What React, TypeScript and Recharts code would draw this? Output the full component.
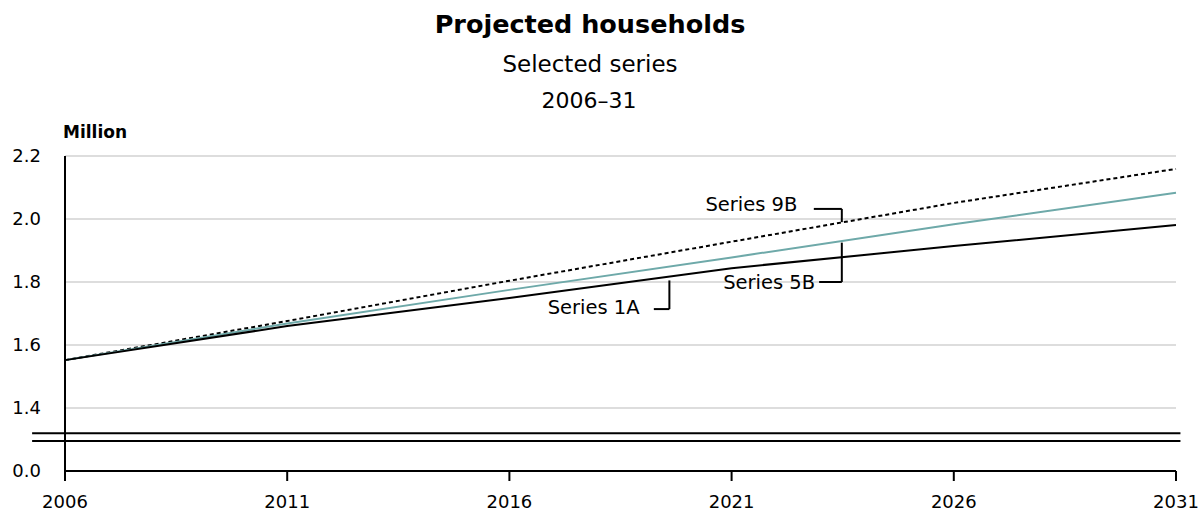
import React from "react";
import {
  LineChart,
  Line,
  XAxis,
  YAxis,
  CartesianGrid,
  ReferenceLine,
  ReferenceDot,
  Customized,
} from "recharts";

// ---- data ----
const years = [2006, 2011, 2016, 2021, 2026, 2031];
const series1A = [1.552, 1.66, 1.749, 1.844, 1.914, 1.981];
const series5B = [1.552, 1.668, 1.775, 1.878, 1.983, 2.083];
const series9B = [1.552, 1.676, 1.804, 1.928, 2.051, 2.159];

// broken axis: the "0.0" label sits at position 1.2
const yTicks = [1.2, 1.4, 1.6, 1.8, 2.0, 2.2];
const yTickLabels = ["0.0", "1.4", "1.6", "1.8", "2.0", "2.2"];
const xTickLabels = ["2006", "2011", "2016", "2021", "2026", "2031"];

// annotation anchors (data coordinates)
const labelNames = ["Series 9B", "Series 5B", "Series 1A"];
const labelX = [2022.48, 2022.88, 2018.93];
const labelY = [2.046, 1.8, 1.719];
const leaderStartX = [2022.85, 2022.97, 2019.25];
const leaderCornerX = [2023.48, 2023.48, 2019.6];
const leaderY = [2.032, 1.8, 1.714];
const leaderEndY = [1.99, 1.925, 1.805];

const breakYs = [1.32, 1.295];

const data = years.map((year, i) => ({
  year,
  s1A: series1A[i],
  s5B: series5B[i],
  s9B: series9B[i],
}));

const FONT = "'DejaVu Sans', Verdana, sans-serif";

const Titles = () => (
  <g fontFamily={FONT} fill="#000">
    <text x={590} y={33} textAnchor="middle" fontSize={25.5} fontWeight="bold">
      Projected households
    </text>
    <text x={590} y={72} textAnchor="middle" fontSize={23}>
      Selected series
    </text>
    <text x={589} y={108} textAnchor="middle" fontSize={22}>
      2006–31
    </text>
    <text x={63} y={138} fontSize={17} fontWeight="bold">
      Million
    </text>
  </g>
);

const makeLabel = (text: string) => (props: any) => {
  const vb = props.viewBox || {};
  const cx = vb.cx !== undefined ? vb.cx : vb.x + (vb.width || 0) / 2;
  const cy = vb.cy !== undefined ? vb.cy : vb.y + (vb.height || 0) / 2;
  return (
    <text
      x={cx}
      y={cy}
      textAnchor="end"
      dominantBaseline="central"
      fontFamily={FONT}
      fontSize={19.5}
      fill="#000"
    >
      {text}
    </text>
  );
};

export default function App() {
  return (
    <div style={{ position: "absolute", left: 0, top: 0, background: "#fff" }}>
      <LineChart
        width={1204}
        height={513}
        data={data}
        margin={{ top: 156, right: 28, bottom: 0, left: 0 }}
      >
        <CartesianGrid vertical={false} stroke="#d2d2d2" strokeWidth={1.5} />
        <XAxis
          dataKey="year"
          type="number"
          domain={[2006, 2031]}
          ticks={years}
          tickFormatter={(v: number) => xTickLabels[years.indexOf(v)] ?? String(v)}
          height={42}
          tickSize={10}
          tickMargin={14}
          axisLine={{ stroke: "#000", strokeWidth: 2 }}
          tickLine={{ stroke: "#000", strokeWidth: 2 }}
          tick={{ fill: "#000", fontSize: 18, fontFamily: FONT }}
          interval={0}
        />
        <YAxis
          type="number"
          domain={[1.2, 2.2]}
          ticks={yTicks}
          tickFormatter={(v: number) => {
            const i = yTicks.findIndex((t) => Math.abs(t - v) < 1e-9);
            return i >= 0 ? yTickLabels[i] : v.toFixed(1);
          }}
          width={65}
          tickSize={0}
          tickMargin={24}
          axisLine={{ stroke: "#000", strokeWidth: 2 }}
          tickLine={false}
          tick={{ fill: "#000", fontSize: 18, fontFamily: FONT }}
          allowDataOverflow
          interval={0}
        />
        {breakYs.map((y, i) => (
          <ReferenceLine
            key={"b" + i}
            segment={[
              { x: 2005.26, y },
              { x: 2031.1, y },
            ]}
            stroke="#000"
            strokeWidth={2}
            ifOverflow="visible"
          />
        ))}
        <Line
          dataKey="s9B"
          stroke="#000"
          strokeWidth={2}
          strokeDasharray="4 3"
          dot={false}
          type="linear"
          isAnimationActive={false}
        />
        <Line
          dataKey="s5B"
          stroke="#6ea9a9"
          strokeWidth={2}
          dot={false}
          type="linear"
          isAnimationActive={false}
        />
        <Line
          dataKey="s1A"
          stroke="#000"
          strokeWidth={2}
          dot={false}
          type="linear"
          isAnimationActive={false}
        />
        {labelNames.map((n, i) => (
          <ReferenceLine
            key={"lh" + i}
            segment={[
              { x: leaderStartX[i], y: leaderY[i] },
              { x: leaderCornerX[i], y: leaderY[i] },
            ]}
            stroke="#000"
            strokeWidth={2}
            ifOverflow="visible"
          />
        ))}
        {labelNames.map((n, i) => (
          <ReferenceLine
            key={"lv" + i}
            segment={[
              { x: leaderCornerX[i], y: leaderY[i] },
              { x: leaderCornerX[i], y: leaderEndY[i] },
            ]}
            stroke="#000"
            strokeWidth={2}
            ifOverflow="visible"
          />
        ))}
        {labelNames.map((n, i) => (
          <ReferenceDot
            key={"ld" + i}
            x={labelX[i]}
            y={labelY[i]}
            r={0}
            fill="none"
            stroke="none"
            ifOverflow="visible"
            label={makeLabel(n)}
          />
        ))}
        <Customized component={Titles} />
      </LineChart>
    </div>
  );
}
